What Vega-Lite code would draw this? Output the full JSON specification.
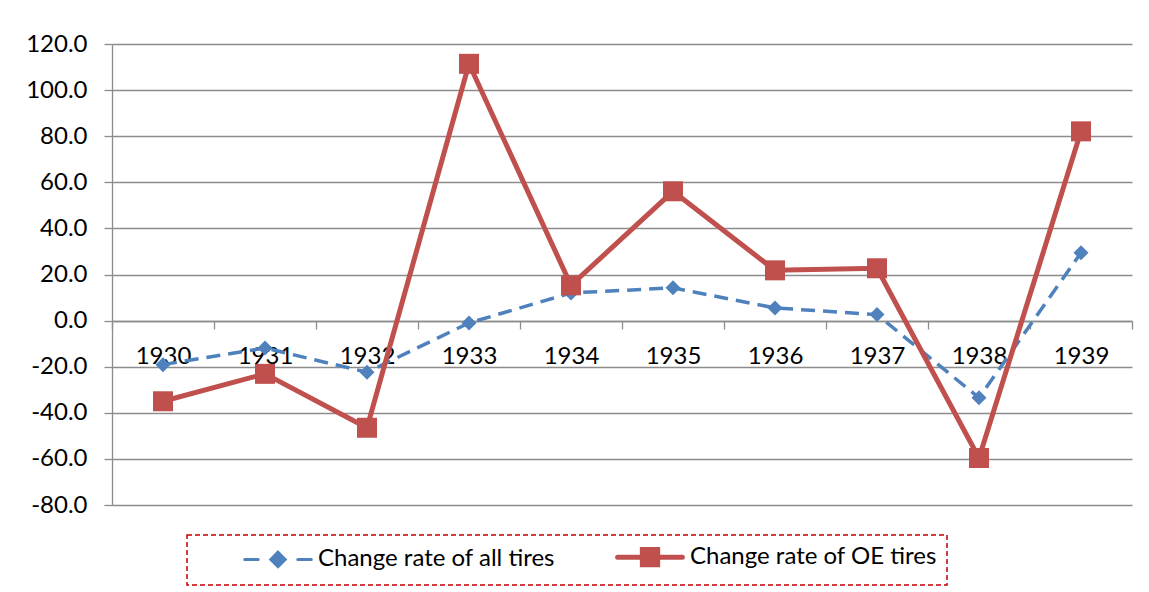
{
  "$schema": "https://vega.github.io/schema/vega-lite/v6.json",
  "width": 1020,
  "height": 461,
  "autosize": {"type": "none"},
  "padding": {"left": 112, "top": 44, "right": 17, "bottom": 87},
  "background": "white",
  "config": {
    "view": {"stroke": null},
    "font": "Lato",
    "axis": {"labelFont": "Lato", "labelFontSize": 24, "labelColor": "black", "domainColor": "#8c8c8c", "tickColor": "#8c8c8c", "domainWidth": 1.3, "tickWidth": 1.3}
  },
  "data": {
    "values": [
      {"year": "1930", "series": "Change rate of all tires", "value": -19.1},
      {"year": "1931", "series": "Change rate of all tires", "value": -11.9},
      {"year": "1932", "series": "Change rate of all tires", "value": -22.4},
      {"year": "1933", "series": "Change rate of all tires", "value": -1.0},
      {"year": "1934", "series": "Change rate of all tires", "value": 12.0},
      {"year": "1935", "series": "Change rate of all tires", "value": 14.2},
      {"year": "1936", "series": "Change rate of all tires", "value": 5.5},
      {"year": "1937", "series": "Change rate of all tires", "value": 2.6},
      {"year": "1938", "series": "Change rate of all tires", "value": -33.5},
      {"year": "1939", "series": "Change rate of all tires", "value": 29.4},
      {"year": "1930", "series": "Change rate of OE tires", "value": -35.0},
      {"year": "1931", "series": "Change rate of OE tires", "value": -23.1},
      {"year": "1932", "series": "Change rate of OE tires", "value": -46.5},
      {"year": "1933", "series": "Change rate of OE tires", "value": 111.4},
      {"year": "1934", "series": "Change rate of OE tires", "value": 15.3},
      {"year": "1935", "series": "Change rate of OE tires", "value": 56.1},
      {"year": "1936", "series": "Change rate of OE tires", "value": 21.8},
      {"year": "1937", "series": "Change rate of OE tires", "value": 22.7},
      {"year": "1938", "series": "Change rate of OE tires", "value": -59.6},
      {"year": "1939", "series": "Change rate of OE tires", "value": 82.1}
    ]
  },
  "encoding": {
    "x": {
      "field": "year", "type": "ordinal",
      "scale": {"paddingInner": 0, "paddingOuter": 0},
      "axis": {"title": null, "orient": "bottom", "offset": -184, "tickBand": "extent", "labelAngle": 0, "grid": false, "tickSize": 8, "labelPadding": 15}
    },
    "y": {
      "field": "value", "type": "quantitative",
      "scale": {"domain": [-80, 120], "nice": false, "zero": false},
      "axis": {"title": null, "values": [-80, -60, -40, -20, 0, 20, 40, 60, 80, 100, 120], "labelExpr": "replace(format(datum.value, '.1f'), '\u2212', '-')", "grid": true, "gridColor": "#8c8c8c", "gridWidth": 1.3, "tickSize": 8, "labelPadding": 17}
    },
    "color": {
      "field": "series", "type": "nominal",
      "scale": {"domain": ["Change rate of all tires", "Change rate of OE tires"], "range": ["#4F81BD", "#C0504D"]},
      "legend": {
        "title": null,
        "orient": "none",
        "legendX": 75,
        "legendY": 491,
        "direction": "horizontal",
        "padding": 10,
        "strokeColor": "#C00000",
        "fillColor": "white",
        "labelFont": "Lato",
        "labelFontSize": 24,
        "labelColor": "black",
        "labelLimit": 0,
        "labelExpr": "datum.value === 'Change rate of OE tires' ? datum.label + '\u00a0\u00a0\u00a0\u00a0\u00a0\u00a0\u00a0' : datum.label",
        "symbolSize": 324,
        "symbolOffset": 69,
        "labelOffset": 28,
        "columnPadding": 14,
        "encode": {
          "legend": {"update": {"strokeDash": {"value": [5, 3]}, "strokeWidth": {"value": 1.5}}},
          "symbols": {"update": {
            "shape": {"signal": "datum.value === 'Change rate of all tires' ? 'M-3.7,0H-2.2M2.2,0H3.7M0,-0.8L0.8,0L0,0.8L-0.8,0Z' : 'M-3.6,0H3.6M-0.85,-0.85H0.85V0.85H-0.85Z'"},
            "fill": {"signal": "datum.value === 'Change rate of all tires' ? '#4F81BD' : '#C0504D'"},
            "stroke": {"signal": "datum.value === 'Change rate of all tires' ? '#4F81BD' : '#C0504D'"},
            "strokeWidth": {"signal": "datum.value === 'Change rate of all tires' ? 3 : 5"},
            "strokeCap": {"value": "round"},
            "size": {"value": 324},
            "opacity": {"value": 1}
          }}
        }
      }
    }
  },
  "layer": [
    {
      "transform": [{"filter": "datum.series === 'Change rate of all tires'"}],
      "mark": {"type": "line", "strokeDash": [14, 8], "strokeWidth": 3.5}
    },
    {
      "transform": [{"filter": "datum.series === 'Change rate of all tires'"}],
      "mark": {"type": "point", "filled": true, "opacity": 1, "shape": "diamond", "size": 225, "strokeWidth": 0}
    },
    {
      "transform": [{"filter": "datum.series === 'Change rate of OE tires'"}],
      "mark": {"type": "line", "strokeWidth": 5}
    },
    {
      "transform": [{"filter": "datum.series === 'Change rate of OE tires'"}],
      "mark": {"type": "point", "filled": true, "opacity": 1, "shape": "square", "size": 400, "strokeWidth": 0}
    }
  ]
}
